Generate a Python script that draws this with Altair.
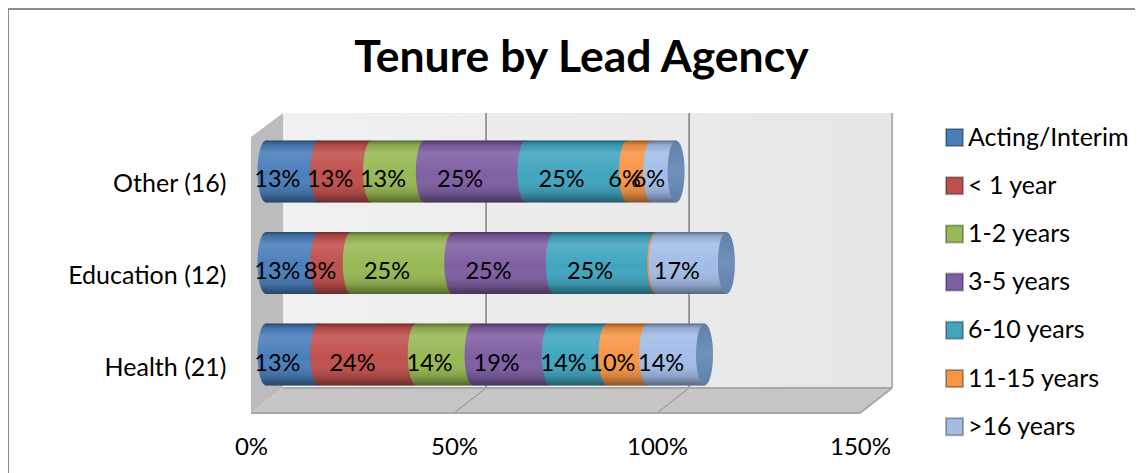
import altair as alt
import pandas as pd

# ---- values ----
categories = ["Other (16)", "Education (12)", "Health (21)"]
series = ["Acting/Interim", "< 1 year", "1-2 years", "3-5 years", "6-10 years", "11-15 years", ">16 years"]
other = [13, 13, 13, 25, 25, 6, 6]
education = [13, 8, 25, 25, 25, 0.4, 17]
health = [13, 24, 14, 19, 14, 10, 14]
colors = ["#4a7ebb", "#c0504d", "#98b954", "#7f5fa3", "#41a5c0", "#f79646", "#a3bde8"]
x_ticks = [0, 0.5, 1, 1.5]

FONT = "Lato"
LABEL = 25
DEPTH = 0.079          # 3-D wall depth, in x units
BAR_DEPTH = 0.037      # cylinder centre depth
SCALE_X = alt.Scale(domain=[0, 1.5], nice=False, zero=False)
SCALE_W = alt.Scale(domain=[0, 300], nice=False, zero=False)
SCALE_C = alt.Scale(domain=categories, paddingInner=0.3224, paddingOuter=0.3)
SCALE_S = alt.Scale(domain=series, range=colors)

rows = []
for cat, vals in zip(categories, [other, education, health]):
    cum = 0
    for i, (s, v) in enumerate(zip(series, vals)):
        v = v / 100
        rows.append(dict(cat=cat, series=s, order=i, value=v, start=cum + BAR_DEPTH,
                         end=cum + v + BAR_DEPTH, mid=cum + v / 2,
                         label=f"{round(v * 100)}%" if v >= 0.01 else ""))
        cum += v
df = pd.DataFrame(rows)
ends = df.groupby("cat", sort=False)["end"].max().reset_index()
ends["start"] = BAR_DEPTH

LEFT = "M0,-1 C-0.151,-1 -0.274,-0.5523 -0.274,0 C-0.274,0.5523 -0.151,1 0,1 Z"
HEAD = "M0.03,-1 L0,-1 C-0.151,-1 -0.274,-0.5523 -0.274,0 C-0.274,0.5523 -0.151,1 0,1 L0.03,1 Z"
FULL = ("M0,-1 C-0.151,-1 -0.274,-0.5523 -0.274,0 C-0.274,0.5523 -0.151,1 0,1 "
        "C0.151,1 0.274,0.5523 0.274,0 C0.274,-0.5523 0.151,-1 0,-1 Z")
SIZE = 62 ** 2


def vgrad(stops):
    return alt.Gradient(gradient="linear", x1=0, x2=0, y1=0, y2=1,
                        stops=[alt.GradientStop(color=c, offset=o) for o, c in stops])


shade = vgrad([(0, "rgba(0,0,0,0.42)"), (0.07, "rgba(0,0,0,0.10)"), (0.2, "rgba(255,255,255,0.12)"),
               (0.55, "rgba(255,255,255,0)"), (0.85, "rgba(0,0,0,0.14)"), (1, "rgba(0,0,0,0.45)")])

X_AXIS = alt.Axis(values=x_ticks, format=".0%", grid=False, domain=False, ticks=False, title=None,
                  labelPadding=22, labelFont=FONT, labelFontSize=LABEL - 1, labelColor="#000000",
                  labelFlush=False)
Y_AXIS = alt.Axis(domain=False, ticks=False, labelPadding=25, labelOffset=13, title=None,
                  labelFont=FONT, labelFontSize=LABEL, labelColor="#000000")


def X(field):
    return alt.X(field, scale=SCALE_X, axis=X_AXIS)


# ---- 3-D box behind the bars ----
x_w = X("x:Q")
y_w = alt.Y("y:Q", scale=SCALE_W, axis=None)

wall = alt.Chart(pd.DataFrame([dict(x=DEPTH, x2=1.5 + DEPTH, y=25, y2=300)])).mark_rect(
    fill=alt.Gradient(gradient="linear", x1=0, x2=1, y1=0, y2=0,
                      stops=[alt.GradientStop(color="#f1f1f1", offset=0),
                             alt.GradientStop(color="#e6e6e6", offset=1)])
).encode(x=x_w, x2="x2:Q", y=y_w, y2="y2:Q")

side = alt.Chart(pd.DataFrame([dict(x=0, y=0, y2=276), dict(x=DEPTH, y=25, y2=300)])).mark_area(
    color="#bcbcbc", orient="vertical"
).encode(x=x_w, y=y_w, y2="y2:Q")

floor = alt.Chart(pd.DataFrame([dict(y=0, x=0, x2=1.5), dict(y=25, x=DEPTH, x2=1.5 + DEPTH)])).mark_area(
    color="#c6c6c6", orient="horizontal"
).encode(y=y_w, x=x_w, x2="x2:Q")

grid = alt.Chart(pd.DataFrame(dict(x=[0.5 + DEPTH, 1 + DEPTH], y=[25, 25], y2=[300, 300]))).mark_rule(
    color="#7f7f7f", strokeWidth=1.5
).encode(x=x_w, y=y_w, y2="y2:Q")

right_edge = alt.Chart(pd.DataFrame(dict(x=[1.5 + DEPTH], y=[25], y2=[300]))).mark_rule(
    color="#b0b0b0", strokeWidth=2
).encode(x=x_w, y=y_w, y2="y2:Q")

lines = pd.DataFrame([
    dict(id="g50", x=0.5, y=0), dict(id="g50", x=0.5 + DEPTH, y=25),
    dict(id="g100", x=1.0, y=0), dict(id="g100", x=1.0 + DEPTH, y=25),
])
diag = alt.Chart(lines).mark_line(color="#8c8c8c", strokeWidth=1).encode(x=x_w, y=y_w, detail="id:N")

edges = pd.DataFrame([
    dict(id="front", x=0, y=0), dict(id="front", x=1.5, y=0),
    dict(id="back", x=DEPTH, y=25), dict(id="back", x=1.5 + DEPTH, y=25),
    dict(id="r", x=1.5, y=0), dict(id="r", x=1.5 + DEPTH, y=25),
])
edge = alt.Chart(edges).mark_line(color="#a8a8a8", strokeWidth=2).encode(x=x_w, y=y_w, detail="id:N")

frame = pd.DataFrame([
    dict(id="l", x=-0.5985, y=-60), dict(id="l", x=-0.5985, y=404),
    dict(id="t", x=-0.5985, y=404), dict(id="t", x=2.18, y=404),
])
frame_line = alt.Chart(frame).mark_line(color="#8c8c8c", strokeWidth=2, clip=False).encode(
    x=x_w, y=y_w, detail="id:N", order="x:Q")

background = alt.layer(frame_line, wall, side, floor, grid, right_edge, diag, edge)

# ---- cylinders ----
y_c = alt.Y("cat:N", scale=SCALE_C, axis=Y_AXIS)
color = alt.Color("series:N", scale=SCALE_S, sort=series, title=None,
                  legend=alt.Legend(orient="none", legendX=691, legendY=12, symbolType="square",
                                    symbolSize=289, symbolStrokeWidth=2, symbolStrokeColor="rgba(0,0,0,0.3)",
                                    labelFont=FONT, labelFontSize=LABEL, labelColor="#000000",
                                    labelLimit=300, rowPadding=22.2, labelOffset=1))

base = alt.Chart(df)
rows_base = alt.Chart(ends)
bars = base.mark_bar(stroke="rgba(0,0,0,0)").encode(x=X("start:Q"), x2="end:Q", y=y_c, color=color)
heads = base.mark_point(shape=HEAD, filled=True, opacity=1, size=SIZE, strokeWidth=0).encode(
    x=X("start:Q"), y=y_c, color=color, order="order:Q")
bar_shade = rows_base.mark_bar(fill=shade).encode(x=X("start:Q"), x2="end:Q", y=y_c)
head_shade = rows_base.mark_point(shape=LEFT, filled=True, opacity=1, size=SIZE, strokeWidth=0, fill=shade).encode(
    x=X("start:Q"), y=y_c)
caps = rows_base.mark_point(shape=FULL, filled=True, opacity=1, size=SIZE, strokeWidth=0,
                            fill=vgrad([(0, "#5f80a8"), (0.5, "#6f91ba"), (1, "#5f80a8")])).encode(
    x=X("end:Q"), y=y_c)
labels = base.transform_filter("datum.label != ''").mark_text(
    font=FONT, fontSize=LABEL - 1.5, color="#000000", dy=9, baseline="middle"
).encode(x=X("mid:Q"), y=y_c, text="label:N")

foreground = alt.layer(bars, heads, bar_shade, head_shade, caps, labels)

chart = alt.layer(background, foreground).resolve_scale(y="independent").properties(
    width=609, height=300,
    autosize=alt.AutoSizeParams(type="none"),
    padding={"left": 243, "top": 105, "right": 275, "bottom": 60},
    background="#ffffff",
    title=alt.TitleParams("Tenure by Lead Agency", font=FONT, fontSize=44.5, fontWeight="bold",
                          anchor="middle", dx=26, offset=-76, color="#000000"),
).configure_view(stroke=None)

chart.save("out.html", embed_options={"renderer": "svg", "actions": False})
